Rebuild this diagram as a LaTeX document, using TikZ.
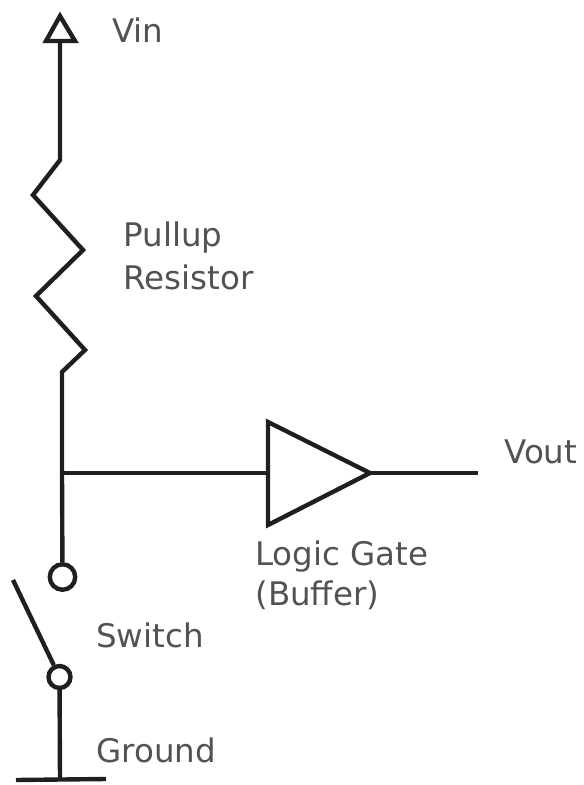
\documentclass[tikz,border=0pt]{standalone}
\usepackage{fontspec}
\setmainfont{DejaVu Sans}
\usetikzlibrary{arrows.meta}
\tikzset{
  wire/.style={line width=2.5pt,line join=miter,draw=black!88},
  lbl/.style={anchor=west,inner sep=0pt,text=black!68,font=\fontsize{18.5}{22}\selectfont},
  pin/.style={circle,draw=black!88,line width=2.5pt,fill=white,inner sep=0pt,minimum size=14.5pt}
}
\begin{document}
\begin{tikzpicture}[x=0.02cm,y=-0.02cm]
\useasboundingbox (0,0) rectangle (583,785);
% supply and pullup
\coordinate (vintop) at (60,16);
\coordinate (vinbase) at (60,41);
\coordinate (resA) at (60,160);
\coordinate (resB) at (62,372);
\coordinate (junction) at (62,473);
\draw[wire] (vinbase) -- (resA) -- (33,195) -- (83,250) -- (36,296) -- (85,350) -- (resB) -- (junction);
\draw[wire] (46,41) -- (vintop) -- (75,41) -- cycle;
% buffer
\coordinate (gateA) at (268,422);
\coordinate (gateB) at (268,525);
\coordinate (gatein) at (268,473);
\coordinate (gateout) at (370,473);
\coordinate (vout) at (478,473);
\draw[wire] (gateA) -- (gateout) -- (gateB) -- cycle;
\draw[wire] (junction) -- (gatein);
\draw[wire] (gateout) -- (vout);
% switch
\coordinate (lever) at (13,580);
\coordinate (gnd) at (60,780);
\coordinate (gndL) at (16,780);
\coordinate (gndR) at (106,779);
\node[pin] (swtop) at (62.5,577) {};
\node[pin,minimum size=12.5pt] (swbot) at (59.5,677) {};
\draw[wire] (junction) -- (swtop);
\draw[wire] (lever) -- (swbot);
\draw[wire] (swbot) -- (gnd);
\draw[wire] (gndL) -- (gndR);
% labels
\node[lbl] (vinlbl) at (112,30) {Vin};
\node[lbl] (pulluplbl) at (123,238) {Pullup};
\node[lbl] (resistorlbl) at (123,277) {Resistor};
\node[lbl] (voutlbl) at (504,452) {Vout};
\node[lbl] (gatelbl) at (255,557) {Logic Gate};
\node[lbl] (bufferlbl) at (255,595) {(Buffer)};
\node[lbl] (switchlbl) at (96,635) {Switch};
\node[lbl] (groundlbl) at (96,750) {Ground};
\end{tikzpicture}
\end{document}
